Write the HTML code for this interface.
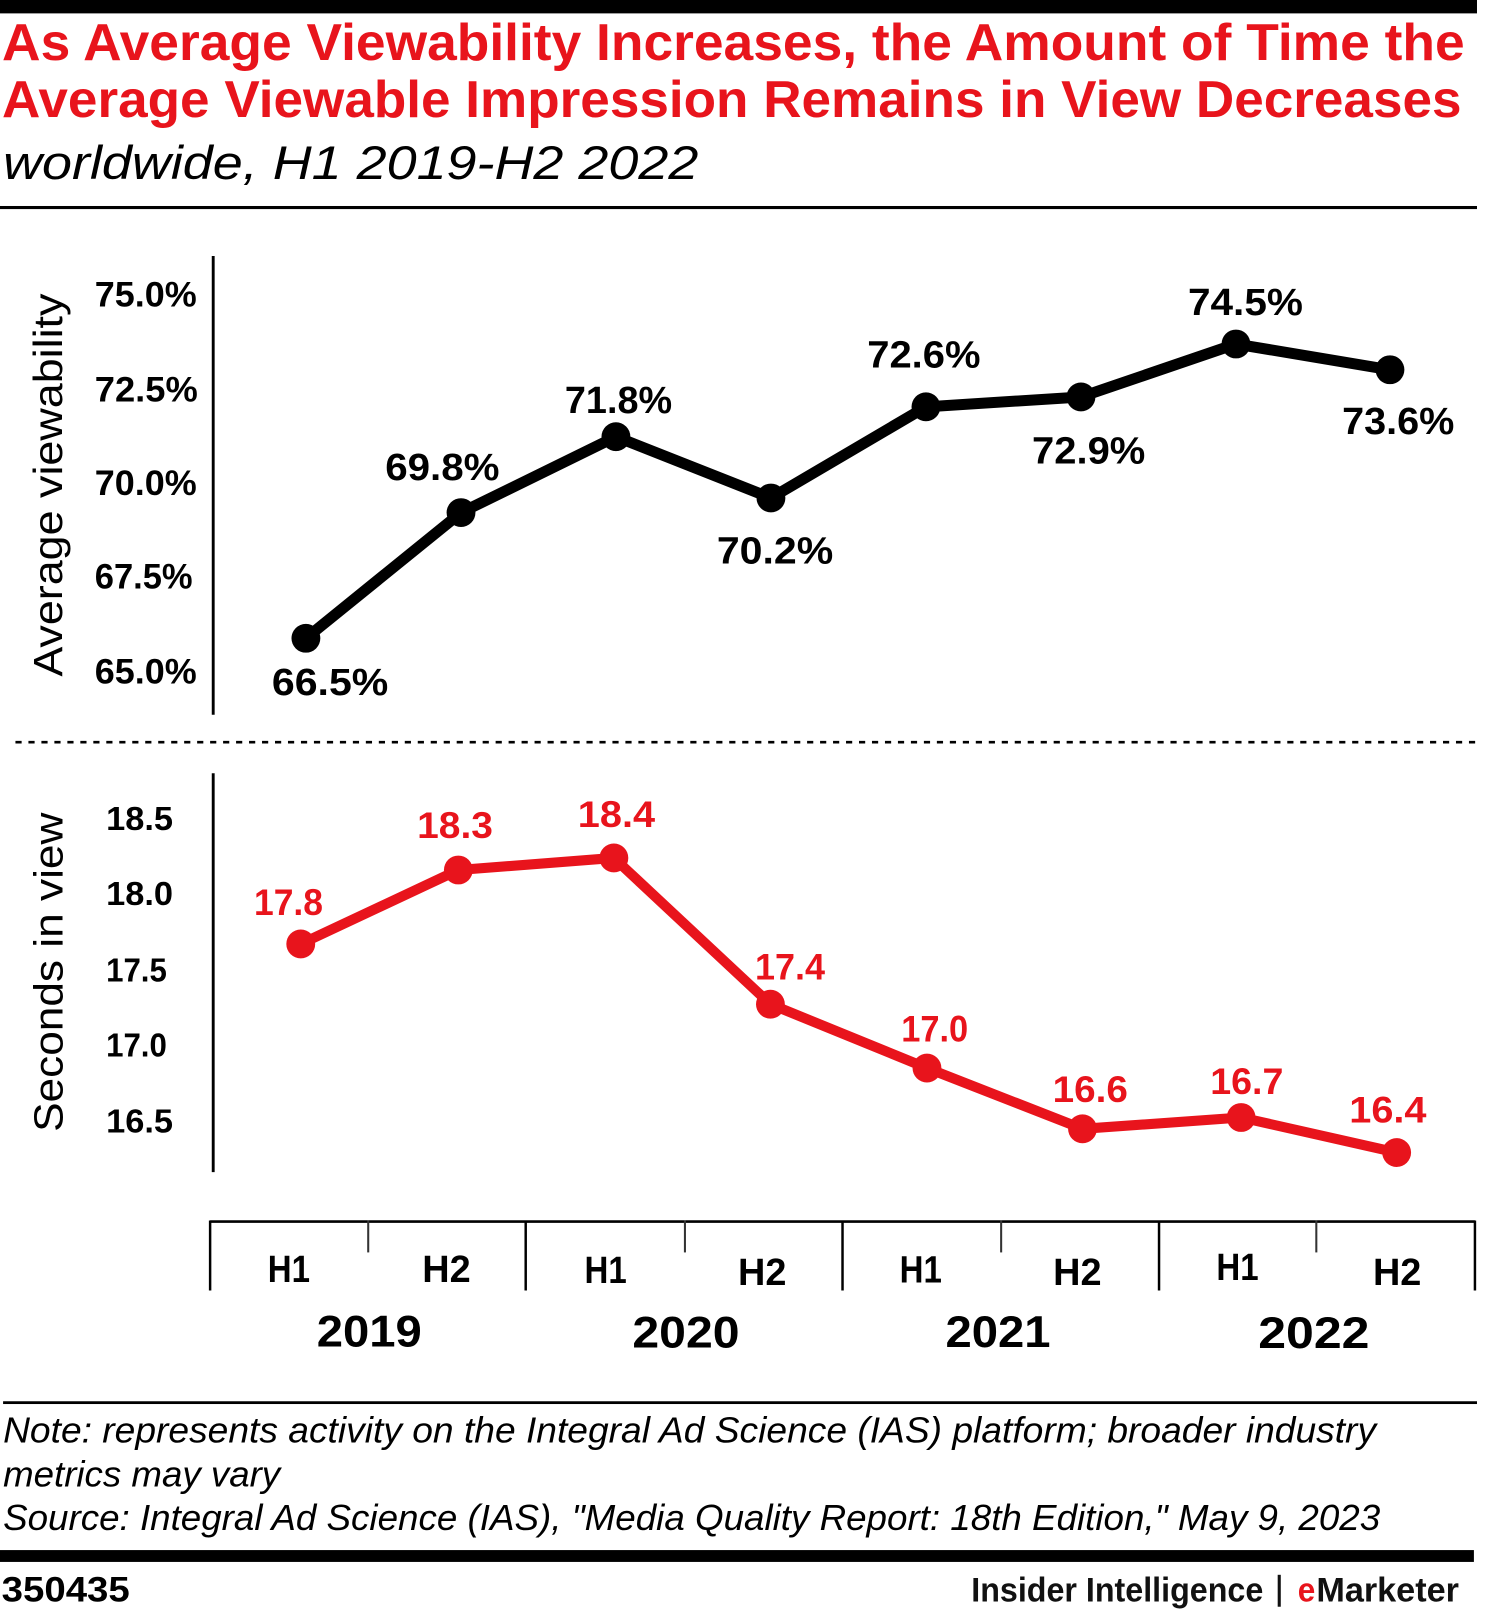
<!DOCTYPE html>
<html>
<head>
<meta charset="utf-8">
<style>
html,body{margin:0;padding:0;background:#fff;}
svg{display:block;}
text{font-family:"Liberation Sans",Arial,sans-serif;}
.b{font-weight:bold;}
.i{font-style:italic;}
</style>
</head>
<body>
<svg width="1491" height="1616" viewBox="0 0 1447.6 1569" preserveAspectRatio="none" xmlns="http://www.w3.org/2000/svg">
<rect x="0" y="0" width="1447.6" height="1569" fill="#fff"/>
<!-- top bar -->
<rect x="0" y="0" width="1434" height="13" fill="#000"/>
<!-- title -->
<text class="b" x="2" y="58.3" font-size="50" fill="#E8141C" textLength="1420" lengthAdjust="spacingAndGlyphs">As Average Viewability Increases, the Amount of Time the</text>
<text class="b" x="2" y="113.6" font-size="50" fill="#E8141C" textLength="1417" lengthAdjust="spacingAndGlyphs">Average Viewable Impression Remains in View Decreases</text>
<text class="i" x="3" y="174" font-size="46" fill="#000" textLength="675" lengthAdjust="spacingAndGlyphs">worldwide, H1 2019-H2 2022</text>
<rect x="0" y="200" width="1434" height="3" fill="#000"/>

<!-- upper chart -->
<text transform="translate(60,657) rotate(-90)" x="0" y="0" font-size="40" fill="#000" textLength="372" lengthAdjust="spacingAndGlyphs">Average viewability</text>
<g class="b" font-size="34" fill="#000">
<text class="b" x="92" y="297.7" textLength="99" lengthAdjust="spacingAndGlyphs">75.0%</text>
<text class="b" x="92" y="390" textLength="100" lengthAdjust="spacingAndGlyphs">72.5%</text>
<text class="b" x="92" y="480.6" textLength="99" lengthAdjust="spacingAndGlyphs">70.0%</text>
<text class="b" x="92" y="571.2" textLength="95" lengthAdjust="spacingAndGlyphs">67.5%</text>
<text class="b" x="92" y="663.4" textLength="99" lengthAdjust="spacingAndGlyphs">65.0%</text>
</g>
<line x1="207" y1="248.5" x2="207" y2="694" stroke="#000" stroke-width="2.8"/>
<polyline points="297,619.7 447.6,497.7 598,424 748.5,483.5 899,395 1049.5,385.4 1200,334 1349.5,359" fill="none" stroke="#000" stroke-width="10.7" stroke-linejoin="round"/>
<g fill="#000">
<circle cx="297" cy="619.7" r="14"/>
<circle cx="447.6" cy="497.7" r="14"/>
<circle cx="598" cy="424" r="14"/>
<circle cx="748.5" cy="483.5" r="14"/>
<circle cx="899" cy="395" r="14"/>
<circle cx="1049.5" cy="385.4" r="14"/>
<circle cx="1200" cy="334" r="14"/>
<circle cx="1349.5" cy="359" r="14"/>
</g>
<g font-size="36.5" fill="#000">
<text class="b" x="264" y="675" textLength="113" lengthAdjust="spacingAndGlyphs">66.5%</text>
<text class="b" x="374" y="466" textLength="111" lengthAdjust="spacingAndGlyphs">69.8%</text>
<text class="b" x="548.5" y="401" textLength="104" lengthAdjust="spacingAndGlyphs">71.8%</text>
<text class="b" x="696" y="547" textLength="113" lengthAdjust="spacingAndGlyphs">70.2%</text>
<text class="b" x="842" y="356.6" textLength="110" lengthAdjust="spacingAndGlyphs">72.6%</text>
<text class="b" x="1002" y="450" textLength="110" lengthAdjust="spacingAndGlyphs">72.9%</text>
<text class="b" x="1153.4" y="306" textLength="111.6" lengthAdjust="spacingAndGlyphs">74.5%</text>
<text class="b" x="1303" y="421.4" textLength="109" lengthAdjust="spacingAndGlyphs">73.6%</text>
</g>

<!-- dashed separator -->
<line x1="15" y1="720.6" x2="1434" y2="720.6" stroke="#000" stroke-width="2.6" stroke-dasharray="6 6.6"/>

<!-- lower chart -->
<text transform="translate(60.5,1099) rotate(-90)" x="0" y="0" font-size="40" fill="#000" textLength="310" lengthAdjust="spacingAndGlyphs">Seconds in view</text>
<g font-size="32.6" fill="#000">
<text class="b" x="103" y="805.8" textLength="65" lengthAdjust="spacingAndGlyphs">18.5</text>
<text class="b" x="103" y="878.6" textLength="65" lengthAdjust="spacingAndGlyphs">18.0</text>
<text class="b" x="103" y="953" textLength="59" lengthAdjust="spacingAndGlyphs">17.5</text>
<text class="b" x="103" y="1026" textLength="59" lengthAdjust="spacingAndGlyphs">17.0</text>
<text class="b" x="103" y="1099.7" textLength="65" lengthAdjust="spacingAndGlyphs">16.5</text>
</g>
<line x1="207" y1="750.8" x2="207" y2="1138" stroke="#000" stroke-width="2.8"/>
<polyline points="292,916.5 445,844.7 596,833 748,975 900,1037 1051,1096 1205,1085 1356,1119" fill="none" stroke="#E8141C" stroke-width="9.8" stroke-linejoin="round"/>
<g fill="#E8141C">
<circle cx="292" cy="916.5" r="14"/>
<circle cx="445" cy="844.7" r="14"/>
<circle cx="596" cy="833" r="14"/>
<circle cx="748" cy="975" r="14"/>
<circle cx="900" cy="1037" r="14"/>
<circle cx="1051" cy="1096" r="14"/>
<circle cx="1205" cy="1085" r="14"/>
<circle cx="1356" cy="1119" r="14"/>
</g>
<g font-size="36" fill="#E8141C">
<text class="b" x="246.6" y="888.5" textLength="67" lengthAdjust="spacingAndGlyphs">17.8</text>
<text class="b" x="405" y="813.6" textLength="73.6" lengthAdjust="spacingAndGlyphs">18.3</text>
<text class="b" x="561" y="803" textLength="75" lengthAdjust="spacingAndGlyphs">18.4</text>
<text class="b" x="733" y="951" textLength="68" lengthAdjust="spacingAndGlyphs">17.4</text>
<text class="b" x="875" y="1011" textLength="65" lengthAdjust="spacingAndGlyphs">17.0</text>
<text class="b" x="1022" y="1070" textLength="73" lengthAdjust="spacingAndGlyphs">16.6</text>
<text class="b" x="1175" y="1062" textLength="71" lengthAdjust="spacingAndGlyphs">16.7</text>
<text class="b" x="1310" y="1090" textLength="75" lengthAdjust="spacingAndGlyphs">16.4</text>
</g>

<!-- x-axis bracket -->
<line x1="204" y1="1186" x2="1432" y2="1186" stroke="#000" stroke-width="2.6"/>
<g stroke="#000" stroke-width="2.4">
<line x1="204" y1="1185" x2="204" y2="1253"/>
<line x1="510.4" y1="1185" x2="510.4" y2="1253"/>
<line x1="818" y1="1185" x2="818" y2="1253"/>
<line x1="1125.3" y1="1185" x2="1125.3" y2="1253"/>
<line x1="1432" y1="1185" x2="1432" y2="1253"/>
</g>
<g stroke="#333" stroke-width="2">
<line x1="357.5" y1="1185" x2="357.5" y2="1216"/>
<line x1="665" y1="1185" x2="665" y2="1216"/>
<line x1="972" y1="1185" x2="972" y2="1216"/>
<line x1="1278" y1="1185" x2="1278" y2="1216"/>
</g>
<g font-size="37" fill="#000">
<text class="b" x="260" y="1244.5" textLength="41" lengthAdjust="spacingAndGlyphs">H1</text>
<text class="b" x="410" y="1244.5" textLength="47" lengthAdjust="spacingAndGlyphs">H2</text>
<text class="b" x="567.5" y="1245.5" textLength="41" lengthAdjust="spacingAndGlyphs">H1</text>
<text class="b" x="716.5" y="1247.5" textLength="47" lengthAdjust="spacingAndGlyphs">H2</text>
<text class="b" x="873.5" y="1245" textLength="41" lengthAdjust="spacingAndGlyphs">H1</text>
<text class="b" x="1022.5" y="1247.6" textLength="47" lengthAdjust="spacingAndGlyphs">H2</text>
<text class="b" x="1181" y="1243" textLength="41" lengthAdjust="spacingAndGlyphs">H1</text>
<text class="b" x="1333" y="1247.6" textLength="47" lengthAdjust="spacingAndGlyphs">H2</text>
</g>
<g font-size="43" fill="#000">
<text class="b" x="307.5" y="1307.5" textLength="102" lengthAdjust="spacingAndGlyphs">2019</text>
<text class="b" x="614" y="1308.5" textLength="104" lengthAdjust="spacingAndGlyphs">2020</text>
<text class="b" x="918" y="1308" textLength="102" lengthAdjust="spacingAndGlyphs">2021</text>
<text class="b" x="1221.6" y="1309" textLength="108" lengthAdjust="spacingAndGlyphs">2022</text>
</g>

<!-- notes -->
<rect x="3" y="1360.5" width="1431" height="2.7" fill="#000"/>
<g font-size="35" fill="#000">
<text class="i" x="3" y="1400.6" textLength="1333" lengthAdjust="spacingAndGlyphs">Note: represents activity on the Integral Ad Science (IAS) platform; broader industry</text>
<text class="i" x="3" y="1443.4" textLength="269" lengthAdjust="spacingAndGlyphs">metrics may vary</text>
<text class="i" x="3" y="1485.4" textLength="1337" lengthAdjust="spacingAndGlyphs">Source: Integral Ad Science (IAS), "Media Quality Report: 18th Edition," May 9, 2023</text>
</g>
<rect x="0" y="1505" width="1431" height="11.5" fill="#000"/>

<!-- footer -->
<text class="b" x="1.6" y="1555" font-size="34" fill="#000" textLength="124.4" lengthAdjust="spacingAndGlyphs">350435</text>
<text class="b" x="943" y="1555" font-size="33" fill="#111" textLength="283.5" lengthAdjust="spacingAndGlyphs">Insider Intelligence</text>
<rect x="1240.5" y="1529" width="3" height="31" fill="#111"/>
<text class="b" x="1260" y="1555" font-size="33" fill="#E8141C" textLength="17" lengthAdjust="spacingAndGlyphs">e</text>
<text class="b" x="1278" y="1555" font-size="33" fill="#111" textLength="138.5" lengthAdjust="spacingAndGlyphs">Marketer</text>
</svg>
</body>
</html>
